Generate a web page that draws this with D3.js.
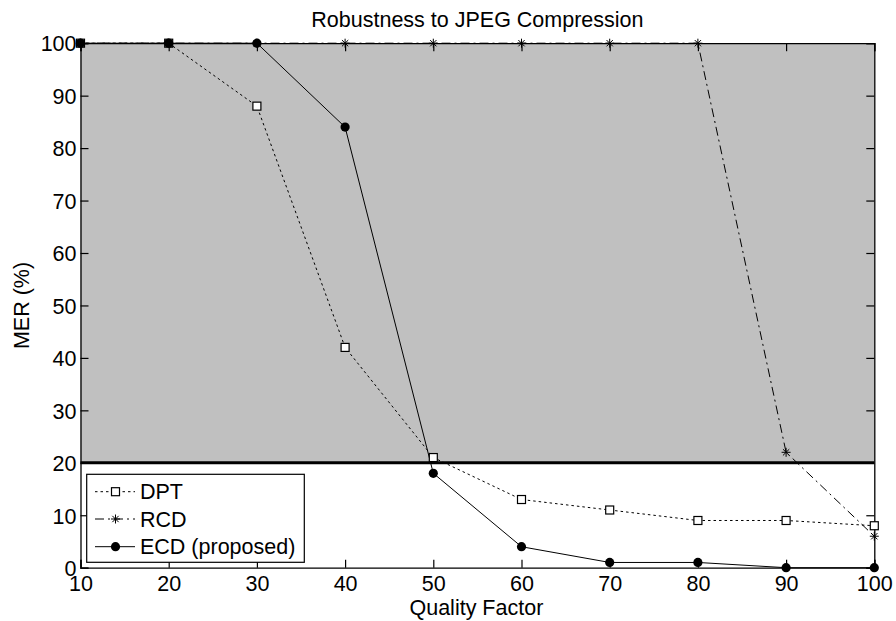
<!DOCTYPE html>
<html><head><meta charset="utf-8">
<script src="https://cdn.jsdelivr.net/npm/d3@7"></script>
<style>body{margin:0;background:#fff}svg{display:block}text{font-family:Arial,"Liberation Sans",sans-serif;fill:#000}</style>
</head><body><div id="c"></div>
<script>
const quality = [10,20,30,40,50,60,70,80,90,100];
const dpt = [100,100,88,42,21,13,11,9,9,8];
const rcd = [100,100,100,100,100,100,100,100,22,6];
const ecd = [100,100,100,84,18,4,1,1,0,0];
const xTicks = [10,20,30,40,50,60,70,80,90,100];
const yTicks = [0,10,20,30,40,50,60,70,80,90,100];
const threshold = 20;
const seriesNames = ["DPT","RCD","ECD (proposed)"];

const W=896,H=621;
const m={l:80.5,r:874.3,t:43.2,b:567.7};
const svg=d3.select("#c").append("svg").attr("width",W).attr("height",H);
const x=d3.scaleLinear().domain([10,100]).range([m.l,m.r]);
const y=d3.scaleLinear().domain([0,100]).range([m.b,m.t]);

// gray region
svg.append("rect").attr("x",x(10)).attr("y",y(100)).attr("width",x(100)-x(10)).attr("height",y(threshold)-y(100)).attr("fill","#c0c0c0");

// axes
const fs=21.5;
const gx=svg.append("g").attr("transform",`translate(0,${m.b})`).call(d3.axisBottom(x).tickValues(xTicks).tickSize(-8).tickPadding(0).tickFormat(d3.format("d")));
const gxt=svg.append("g").attr("transform",`translate(0,${m.t})`).call(d3.axisTop(x).tickValues(xTicks).tickSize(-8).tickFormat(""));
const gy=svg.append("g").attr("transform",`translate(${m.l},0)`).call(d3.axisLeft(y).tickValues(yTicks).tickSize(-8).tickPadding(4).tickFormat(d3.format("d")));
const gyr=svg.append("g").attr("transform",`translate(${m.r},0)`).call(d3.axisRight(y).tickValues(yTicks).tickSize(-8).tickFormat(""));
[gx,gxt,gy,gyr].forEach(g=>{g.select(".domain").attr("stroke","#000").attr("stroke-width",1.3);g.selectAll(".tick line").attr("stroke","#000").attr("stroke-width",1.2);g.selectAll("text").attr("font-size",fs).attr("font-family","Arial, 'Liberation Sans', sans-serif").attr("fill","#000");});
gx.selectAll(".tick text").attr("y",23.3).attr("dy",0);
gy.selectAll(".tick text").attr("dy","0.36em");

// threshold line
svg.append("line").attr("x1",x(10)).attr("x2",x(100)).attr("y1",y(threshold)).attr("y2",y(threshold)).attr("stroke","#000").attr("stroke-width",3);

const line=d3.line().x((d,i)=>x(quality[i])).y(d=>y(d));
const styles=[{data:dpt,dash:"2.5,3"},{data:rcd,dash:"9,4,2,4"},{data:ecd,dash:null}];
styles.forEach(s=>{
  const p=svg.append("path").datum(s.data).attr("d",line).attr("fill","none").attr("stroke","#000").attr("stroke-width",1);
  if(s.dash)p.attr("stroke-dasharray",s.dash);
});

function square(g,cx,cy){g.append("rect").attr("x",cx-4).attr("y",cy-4).attr("width",8).attr("height",8).attr("fill","#fff").attr("stroke","#000").attr("stroke-width",1.2);}
function star(g,cx,cy){const r=4.5;const p=d3.path();p.moveTo(cx-r,cy);p.lineTo(cx+r,cy);p.moveTo(cx,cy-r);p.lineTo(cx,cy+r);p.moveTo(cx-r*0.7,cy-r*0.7);p.lineTo(cx+r*0.7,cy+r*0.7);p.moveTo(cx-r*0.7,cy+r*0.7);p.lineTo(cx+r*0.7,cy-r*0.7);g.append("path").attr("d",p.toString()).attr("stroke","#000").attr("stroke-width",1).attr("fill","none");}
function dot(g,cx,cy){g.append("circle").attr("cx",cx).attr("cy",cy).attr("r",4.6).attr("fill","#000");}
const mk=svg.append("g");
dpt.forEach((v,i)=>square(mk,x(quality[i]),y(v)));
rcd.forEach((v,i)=>star(mk,x(quality[i]),y(v)));
ecd.forEach((v,i)=>dot(mk,x(quality[i]),y(v)));

// title & labels
svg.append("text").attr("x",(m.l+m.r)/2).attr("y",27).attr("text-anchor","middle").attr("font-size",fs).text("Robustness to JPEG Compression");
svg.append("text").attr("x",(m.l+m.r)/2-1).attr("y",615).attr("text-anchor","middle").attr("font-size",fs).text("Quality Factor");
svg.append("text").attr("transform",`translate(29,${(m.t+m.b)/2}) rotate(-90)`).attr("text-anchor","middle").attr("font-size",fs).text("MER (%)");

// legend
const lg=svg.append("g");
lg.append("rect").attr("x",86.7).attr("y",474.3).attr("width",217.6).attr("height",88).attr("fill","#fff").attr("stroke","#000").attr("stroke-width",1.2);
const rows=[491.7,519,546.7];
const mkf=[square,star,dot];
styles.forEach((s,i)=>{
  const l=lg.append("line").attr("x1",95).attr("x2",135).attr("y1",rows[i]).attr("y2",rows[i]).attr("stroke","#000").attr("stroke-width",1);
  if(s.dash)l.attr("stroke-dasharray",s.dash);
  mkf[i](lg,115.5,rows[i]);
  lg.append("text").attr("x",140).attr("y",rows[i]).attr("dy","0.36em").attr("font-size",fs).text(seriesNames[i]);
});
</script></body></html>
